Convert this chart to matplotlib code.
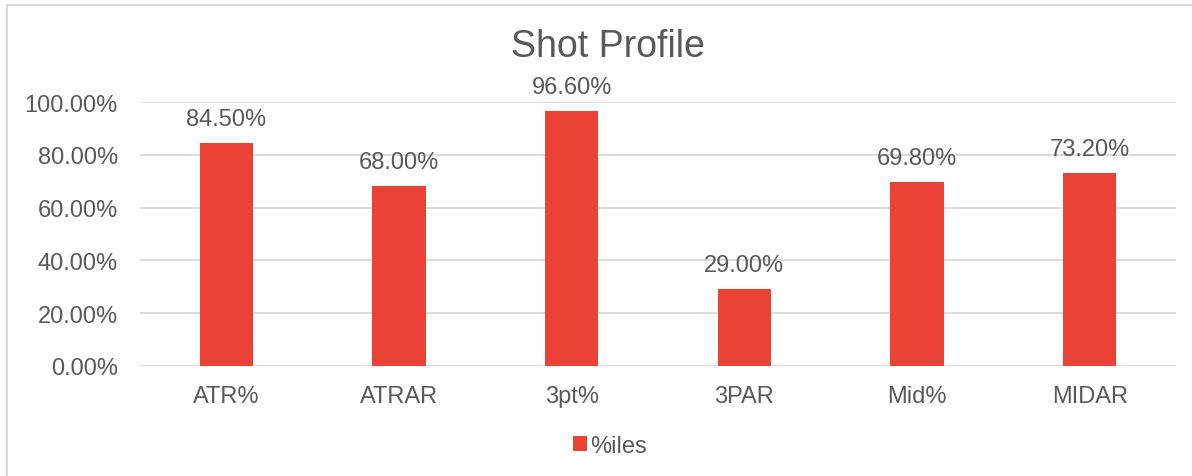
import matplotlib
matplotlib.use('Agg')
import matplotlib.pyplot as plt
from matplotlib.lines import Line2D

# data
categories = ['ATR%', 'ATRAR', '3pt%', '3PAR', 'Mid%', 'MIDAR']
values = [84.5, 68.0, 96.6, 29.0, 69.8, 73.2]
series_name = '%iles'
yticks = [0, 20, 40, 60, 80, 100]

W, H = 1192, 477
bar_color = '#EA4335'
text_color = '#595959'
grid_color = '#D9D9D9'

plt.rcParams['font.family'] = ['Liberation Sans', 'DejaVu Sans']

fig = plt.figure(figsize=(W / 100, H / 100), dpi=100)
ax = fig.add_axes([140 / W, 1 - 367 / H, (1176 - 140) / W, (367 - 103) / H])

x = list(range(len(categories)))
bars = ax.bar(x, values, width=0.31, color=bar_color, label=series_name, zorder=3)

for xi, v in zip(x, values):
    ax.annotate('%.2f%%' % v, (xi, v), xytext=(0, 9.5), textcoords='offset points',
                ha='center', va='bottom', fontsize=17, color=text_color)

ax.set_xlim(-0.5, len(categories) - 0.5)
ax.set_ylim(0, 100)
ax.set_yticks(yticks)
ax.set_yticklabels(['%.2f%%' % t for t in yticks])
ax.set_xticks(x)
ax.set_xticklabels(categories)
ax.tick_params(axis='both', length=0, labelsize=17, labelcolor=text_color)
ax.tick_params(axis='y', pad=16)
ax.tick_params(axis='x', pad=14)
ax.grid(axis='y', color=grid_color, linewidth=1.3, zorder=0)
for s in ax.spines.values():
    s.set_visible(False)

# title centered on chart area
fig.text(608 / W, 1 - 47 / H, 'Shot Profile', ha='center', va='center',
         fontsize=27, color=text_color)

# legend
fig.legend(handles=[bars], labels=[series_name], loc='center',
           bbox_to_anchor=(610 / W, 1 - 447 / H), frameon=False, fontsize=17,
           labelcolor=text_color, handlelength=0.6, handleheight=0.6,
           handletextpad=0.15)

# chart area border (cropped on right and bottom)
fig.add_artist(Line2D([7 / W, 7 / W, 1], [0, 1 - 6 / H, 1 - 6 / H],
                      transform=fig.transFigure, color=grid_color, linewidth=1.3))

fig.savefig('out.png', dpi=100)
